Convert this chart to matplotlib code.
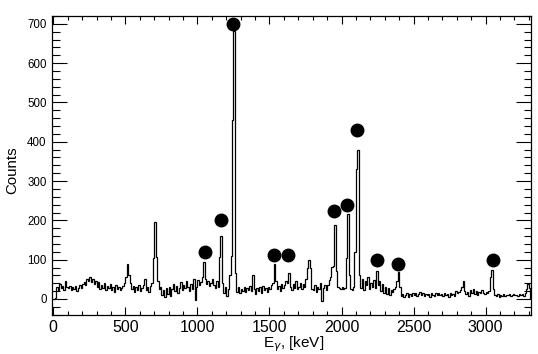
import numpy as np
import matplotlib.pyplot as plt
from matplotlib.ticker import MultipleLocator

plt.rcParams['font.family'] = 'Liberation Sans'
plt.rcParams['mathtext.fontset'] = 'custom'
plt.rcParams['mathtext.rm'] = 'Liberation Sans'

# gamma spectrum, 10 keV bins starting at 0 keV
bin_width = 10
counts = [
    0, 2, 30, 22, 38, 28, 33, 24, 45, 30,          # 0-100
    27, 32, 24, 30, 26, 34, 20, 29, 35, 28,        # 100-200
    38, 44, 35, 52, 47, 56, 42, 50, 38, 45,        # 200-300
    30, 42, 25, 36, 28, 40, 22, 33, 27, 38,        # 300-400
    24, 31, 18, 35, 26, 30, 22, 28, 34, 40,        # 400-500
    55, 88, 60, 40, 25, 32, 18, 30, 24, 36,        # 500-600
    20, 28, 35, 50, 22, 30, 18, 33, 40, 105,       # 600-700
    197, 107, 45, 25, 30, 10, 22, 5, 28, 12,       # 700-800
    30, 8, 25, 38, 20, 32, 15, 28, 42, 24,         # 800-900
    35, 28, 45, 30, 20, 38, 25, 50, -3, 30,        # 900-1000
    48, 35, 42, 55, 95, 50, 38, 46, 32, 40,        # 1000-1100
    50, 36, 28, 45, 30, 107, 160, 40, 15, 30,      # 1100-1200
    8, 25, 60, 110, 455, 682, 65, 18, 30, 15,      # 1200-1300
    25, 20, 30, 18, 28, 22, 32, 20, 60, 25,        # 1300-1400
    12, 28, 20, 30, 15, 32, 22, 28, 18, 30,        # 1400-1500
    26, 35, 40, 89, 45, 25, 32, 20, 38, 28,        # 1500-1600
    35, 45, 40, 67, 30, 22, 38, 28, 45, 25,        # 1600-1700
    30, 40, 26, 38, 30, 52, 80, 100, 78, 25,       # 1700-1800
    22, 35, 18, 30, 25, 40, -4, 28, 35, 22,        # 1800-1900
    35, 48, 55, 82, 85, 188, 70, 31, 28, 25,       # 1900-2000
    30, 26, 28, 104, 216, 60, 25, 22, 30, 120,     # 2000-2100
    331, 379, 60, 28, 50, 22, 45, 35, 55, 25,      # 2100-2200
    40, 30, 48, 28, 70, 35, 45, 20, 38, 15,        # 2200-2300
    30, 12, 28, 10, 22, 18, 25, 30, 45, 68,        # 2300-2400
    30, 8, 12, 5, 10, 14, 6, 12, 8, 15,            # 2400-2500
    10, 16, 8, 12, 18, 10, 14, 7, 13, 10,          # 2500-2600
    12, 6, 15, 10, 8, 14, 11, 16, 9, 12,           # 2600-2700
    8, 14, 10, 12, 6, 15, 10, 13, 8, 20,           # 2700-2800
    14, 18, 22, 30, 46, 20, 12, 18, 8, 22,         # 2800-2900
    15, 26, 12, 20, 10, 18, 14, 22, 16, 12,        # 2900-3000
    18, 14, 20, 57, 74, 25, 10, 8, 12, 6,          # 3000-3100
    10, 8, 12, 7, 11, 9, 13, 8, 10, 12,            # 3100-3200
    9, 11, 8, 13, 10, 12, 8, 14, 25, 37,           # 3200-3300
    28,                                            # 3300-3310
]
edges = np.arange(len(counts) + 1) * bin_width

# identified peaks (markers)
peak_E = [1050, 1166, 1247, 1534, 1631, 1950, 2040, 2105, 2244, 2390, 3053]
peak_y = [120, 200, 700, 112, 112, 225, 240, 430, 100, 90, 100]

fig = plt.figure(figsize=(5.38, 3.54), dpi=100)
ax = fig.add_axes([52.3/538, 1 - 314.7/354, (531 - 52.3)/538, (314.7 - 16)/354])

ax.stairs(counts, edges, color='black', lw=0.9)
ax.plot(peak_E, peak_y, 'o', color='black', ms=9)

ax.set_xlim(-7, 3315)
ax.set_ylim(-40, 720)
ax.xaxis.set_major_locator(MultipleLocator(500))
ax.xaxis.set_minor_locator(MultipleLocator(100))
ax.yaxis.set_major_locator(MultipleLocator(100))
ax.yaxis.set_minor_locator(MultipleLocator(20))

ax.tick_params(which='both', direction='in', top=True, right=True, width=0.8, color='black')
ax.tick_params(axis='x', which='major', length=5.8, labelsize=11.5, pad=4)
ax.tick_params(axis='x', which='minor', length=2.9)
ax.tick_params(axis='y', which='major', length=10.8, labelsize=8.3, pad=4)
ax.tick_params(axis='y', which='minor', length=5.4)
for s in ax.spines.values():
    s.set_linewidth(0.9)

fig.text(12/538, 1 - 170/354, 'Counts', rotation=90, ha='center', va='center', fontsize=10.8)
fig.text(294/538, 1 - 344/354, r'E$_{\gamma}$, [keV]', ha='center', va='center', fontsize=11)

fig.savefig('out.png', dpi=100)
